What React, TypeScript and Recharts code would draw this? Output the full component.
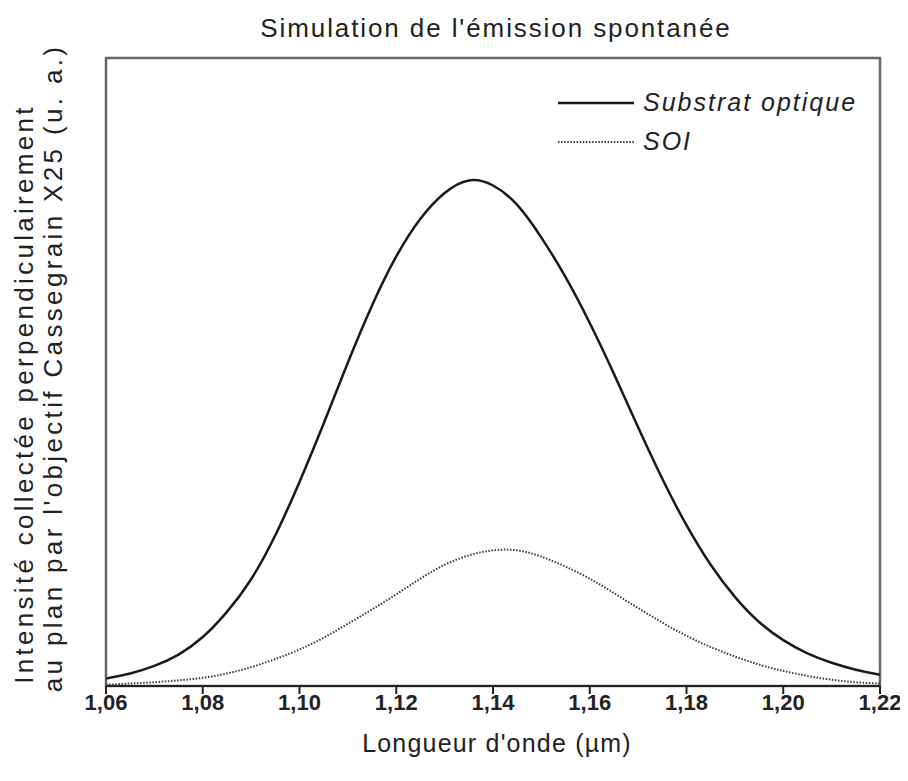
import React from 'react';
import { LineChart, Line, XAxis, YAxis, ReferenceArea, Legend } from 'recharts';

// ---- data ----
const wavelengths = [
  1.06, 1.065, 1.07, 1.075, 1.08, 1.085, 1.09, 1.095, 1.1, 1.105, 1.11,
  1.115, 1.12, 1.125, 1.13, 1.135, 1.14, 1.145, 1.15, 1.155, 1.16, 1.165,
  1.17, 1.175, 1.18, 1.185, 1.19, 1.195, 1.2, 1.205, 1.21, 1.215, 1.22,
];
const substratOptique = [
  0.012, 0.02, 0.032, 0.05, 0.078, 0.118, 0.17, 0.24, 0.325, 0.418, 0.515,
  0.606, 0.684, 0.744, 0.785, 0.805, 0.797, 0.766, 0.714, 0.651, 0.578, 0.497,
  0.412, 0.33, 0.256, 0.193, 0.142, 0.102, 0.073, 0.052, 0.037, 0.026, 0.018,
];
const soi = [
  0.002, 0.004, 0.006, 0.009, 0.013, 0.02, 0.03, 0.043, 0.058, 0.077, 0.099,
  0.122, 0.146, 0.171, 0.193, 0.208, 0.216, 0.216, 0.206, 0.19, 0.171, 0.148,
  0.124, 0.101, 0.08, 0.062, 0.047, 0.034, 0.024, 0.016, 0.01, 0.006, 0.004,
];
const xTicks = [1.06, 1.08, 1.1, 1.12, 1.14, 1.16, 1.18, 1.2, 1.22];
const seriesNames = ['Substrat optique', 'SOI'];

const title = "Simulation de l'émission spontanée";
const xLabel = "Longueur d'onde (µm)";
const yLabelLines = [
  'Intensité collectée perpendiculairement',
  "au plan par l'objectif Cassegrain X25 (u. a.)",
];

const data = wavelengths.map((w, i) => ({
  w,
  substrat: substratOptique[i],
  soi: soi[i],
}));

const W = 908;
const H = 781;
const FONT = "'Liberation Sans', Arial, Helvetica, sans-serif";

const seriesStyles = [
  { stroke: '#1a1a1a', width: 2.5, dash: undefined as string | undefined },
  { stroke: '#3a3a3a', width: 2, dash: '1.5 1.6' },
];

function LegendContent() {
  return (
    <div style={{ fontFamily: FONT, fontStyle: 'italic', fontSize: 25, color: '#222' }}>
      {seriesNames.map((name, i) => (
        <div key={name} style={{ display: 'flex', alignItems: 'center', height: 39 }}>
          <svg width={76} height={10} style={{ display: 'block' }}>
            <line
              x1={0}
              y1={5}
              x2={76}
              y2={5}
              stroke={seriesStyles[i].stroke}
              strokeWidth={seriesStyles[i].width}
              strokeDasharray={seriesStyles[i].dash}
            />
          </svg>
          <span style={{ marginLeft: 9, letterSpacing: 2, whiteSpace: 'nowrap' }}>{name}</span>
        </div>
      ))}
    </div>
  );
}

export default function App() {
  return (
    <div style={{ margin: -8, position: 'relative', width: W, height: H, background: '#fff' }}>
      <LineChart
        width={W}
        height={H}
        data={data}
        margin={{ top: 58, right: 28, bottom: 0, left: 106 }}
      >
        <XAxis
          dataKey="w"
          type="number"
          domain={[1.06, 1.22]}
          ticks={xTicks}
          allowDataOverflow
          height={95}
          tickFormatter={(v: number) => v.toFixed(2).replace('.', ',')}
          tick={{ fontFamily: FONT, fontSize: 22, fontWeight: 'bold', fill: '#222' }}
          tickSize={8}
          tickMargin={0}
          axisLine={{ stroke: '#222', strokeWidth: 2 }}
          tickLine={{ stroke: '#222', strokeWidth: 2 }}
        />
        <YAxis type="number" domain={[0, 1]} hide />
        <ReferenceArea
          x1={1.06}
          x2={1.22}
          y1={0}
          y2={1}
          fill="none"
          fillOpacity={0}
          stroke="#666"
          strokeWidth={2.5}
          ifOverflow="visible"
        />
        <Line
          dataKey="substrat"
          name={seriesNames[0]}
          type="natural"
          stroke={seriesStyles[0].stroke}
          strokeWidth={seriesStyles[0].width}
          dot={false}
          isAnimationActive={false}
        />
        <Line
          dataKey="soi"
          name={seriesNames[1]}
          type="natural"
          stroke={seriesStyles[1].stroke}
          strokeWidth={seriesStyles[1].width}
          strokeDasharray={seriesStyles[1].dash}
          dot={false}
          isAnimationActive={false}
        />
        <Legend
          layout="vertical"
          align="center"
          verticalAlign="middle"
          content={<LegendContent />}
          wrapperStyle={{ position: 'absolute', left: 558, top: 83, width: 'auto', height: 'auto' }}
        />
      </LineChart>
      <svg
        width={W}
        height={H}
        style={{ position: 'absolute', left: 0, top: 0, pointerEvents: 'none' }}
      >
        <text
          x={496}
          y={37}
          textAnchor="middle"
          fontFamily={FONT}
          fontSize={26}
          letterSpacing={1.9}
          fill="#222"
        >
          {title}
        </text>
        <text
          x={497}
          y={752}
          textAnchor="middle"
          fontFamily={FONT}
          fontSize={25}
          letterSpacing={1.2}
          fill="#222"
        >
          {xLabel}
        </text>
        <text
          transform="translate(33,394) rotate(-90)"
          textAnchor="middle"
          fontFamily={FONT}
          fontSize={26}
          letterSpacing={3.3}
          fill="#222"
        >
          {yLabelLines[0]}
        </text>
        <text
          transform="translate(62,368) rotate(-90)"
          textAnchor="middle"
          fontFamily={FONT}
          fontSize={26}
          letterSpacing={3.35}
          fill="#222"
        >
          {yLabelLines[1]}
        </text>
      </svg>
    </div>
  );
}
